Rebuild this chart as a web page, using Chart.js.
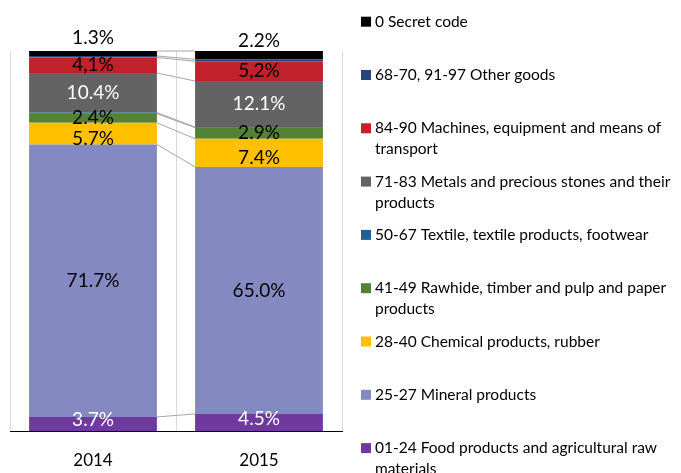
<!DOCTYPE html>
<html>
<head>
<meta charset="utf-8">
<script src="https://cdn.jsdelivr.net/npm/chart.js@4.4.1/dist/chart.umd.min.js"></script>
<style>
html,body{margin:0;padding:0;background:#fff;}
#wrap{width:681px;height:473px;}
</style>
</head>
<body>
<div id="wrap"><canvas id="c" width="681" height="473"></canvas></div>
<script>
// ---- data ----
const years = ['2014', '2015'];
const seriesNames = [
  '01-24 Food products and agricultural raw materials',
  '25-27 Mineral products',
  '28-40 Chemical products, rubber',
  '41-49 Rawhide, timber and pulp and paper products',
  '50-67 Textile, textile products, footwear',
  '71-83 Metals and precious stones and their products',
  '84-90 Machines, equipment and means of transport',
  '68-70, 91-97 Other goods',
  '0 Secret code'
];
const food      = [3.7, 4.5];
const mineral   = [71.7, 65.0];
const chemical  = [5.7, 7.4];
const rawhide   = [2.4, 2.9];
const textile   = [0.3, 0.2];
const metals    = [10.4, 12.1];
const machines  = [4.1, 5.2];
const other     = [0.4, 0.5];
const secret    = [1.3, 2.2];
const seriesValues = [food, mineral, chemical, rawhide, textile, metals, machines, other, secret];
const seriesColors = ['#7039A0', '#8589C2', '#FFC000', '#538135', '#255E91', '#636363', '#C0212A', '#264478', '#000000'];
// label styling per series: show?, text color, decimal separator
const showLabel  = [true, true, true, true, false, true, true, false, true];
const labelColor = ['#ffffff', '#000000', '#000000', '#000000', '#000000', '#ffffff', '#000000', '#000000', '#000000'];
const decimalSep = ['.', '.', '.', '.', '.', '.', ',', '.', '.'];
const labelShift = [-4, 0, 5, 0, 0, 0, 0, 0, 0];

const FONT = 'Lato, "Open Sans", sans-serif';

const datasets = seriesNames.map((name, i) => ({
  label: name,
  data: seriesValues[i],
  backgroundColor: seriesColors[i],
  borderWidth: 0,
  categoryPercentage: 1.0,
  barPercentage: 0.77
}));

const connectorPlugin = {
  id: 'connectors',
  beforeDatasetsDraw(chart) {
    const ctx = chart.ctx;
    ctx.save();
    ctx.strokeStyle = '#a6a6a6';
    ctx.lineWidth = 1;
    chart.data.datasets.forEach((ds, i) => {
      const meta = chart.getDatasetMeta(i);
      const a = meta.data[0], b = meta.data[1];
      if (!a || !b) return;
      ctx.beginPath();
      ctx.moveTo(a.x + a.width / 2, a.y);
      ctx.lineTo(b.x - b.width / 2, b.y);
      ctx.stroke();
    });
    ctx.restore();
  }
};

const labelPlugin = {
  id: 'segLabels',
  afterDatasetsDraw(chart) {
    const ctx = chart.ctx;
    ctx.save();
    ctx.font = '19px ' + FONT;
    ctx.textAlign = 'center';
    ctx.textBaseline = 'middle';
    const last = chart.data.datasets.length - 1;
    chart.data.datasets.forEach((ds, i) => {
      if (!showLabel[i]) return;
      const meta = chart.getDatasetMeta(i);
      meta.data.forEach((el, j) => {
        const v = ds.data[j];
        const txt = v.toFixed(1).replace('.', decimalSep[i]) + '%';
        let y = (el.y + el.base) / 2 + labelShift[i];
        if (i === last) y = el.y - 13 + j * 3;
        ctx.fillStyle = labelColor[i];
        ctx.fillText(txt, el.x, y);
      });
    });
    ctx.restore();
  }
};

const legendPlugin = {
  id: 'sideLegend',
  afterDraw(chart) {
    const ctx = chart.ctx;
    ctx.save();
    ctx.font = '15.5px ' + FONT;
    ctx.textBaseline = 'middle';
    ctx.textAlign = 'left';
    const x0 = 361, tx = 375, maxW = 305, step = 53.3, lineH = 21;
    const ds = chart.data.datasets;
    for (let k = 0; k < ds.length; k++) {
      const i = ds.length - 1 - k;
      const yc = 21.7 + k * step;
      ctx.fillStyle = ds[i].backgroundColor;
      ctx.fillRect(x0, yc - 5, 10, 10);
      const words = ds[i].label.split(' ');
      const lines = [];
      let cur = '';
      words.forEach(w => {
        const t = cur ? cur + ' ' + w : w;
        if (ctx.measureText(t).width > maxW && cur) { lines.push(cur); cur = w; }
        else cur = t;
      });
      if (cur) lines.push(cur);
      ctx.fillStyle = '#000';
      lines.forEach((ln, li) => ctx.fillText(ln, tx, yc + li * lineH));
    }
    ctx.restore();
  }
};

new Chart(document.getElementById('c'), {
  type: 'bar',
  data: { labels: years, datasets },
  options: {
    responsive: false,
    animation: false,
    layout: { padding: { left: 10, right: 339, top: 51, bottom: 2 } },
    plugins: { legend: { display: false }, tooltip: { enabled: false } },
    scales: {
      x: {
        stacked: true,
        grid: { display: true, color: '#d9d9d9', drawTicks: false, offset: true },
        border: { display: true, color: '#000000', width: 1 },
        ticks: { color: '#000', font: { family: FONT, size: 17 }, padding: 19 },
        afterFit(scale) { scale.height = 40; }
      },
      y: {
        stacked: true,
        display: false,
        min: 0,
        max: 100
      }
    }
  },
  plugins: [connectorPlugin, labelPlugin, legendPlugin]
});
</script>
</body>
</html>
